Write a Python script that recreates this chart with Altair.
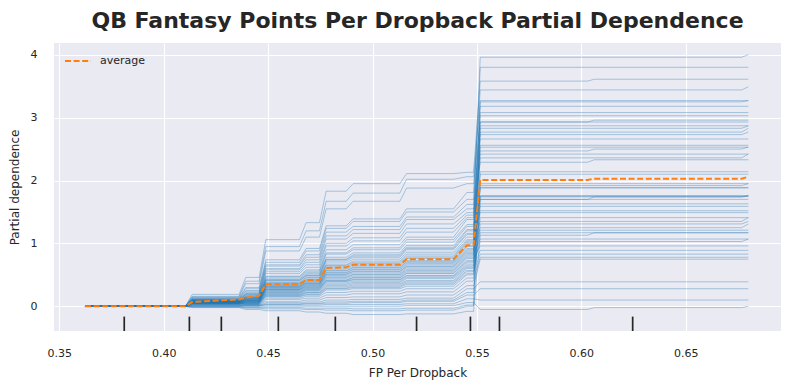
import altair as alt
import pandas as pd

TITLE = "QB Fantasy Points Per Dropback Partial Dependence"

# x positions (start, end) of each flat step of the ICE curves
level_x = [
    (0.3623, 0.4104), (0.4136, 0.4361), (0.4393, 0.4457), (0.4489, 0.4650),
    (0.4682, 0.4746), (0.4778, 0.4874), (0.4907, 0.5131), (0.5163, 0.5388),
    (0.5452, 0.5484), (0.5516, 0.6030), (0.6062, 0.6768), (0.6800,),
]

# ICE curve levels (first step is 0 for every curve)
ice_levels = [
    [0.19, 0.46, 1.06, 1.33, 1.83, 1.95, 2.11, 2.13, 3.58, 3.61, 3.61],
    [0.16, 0.40, 0.95, 1.20, 1.67, 1.80, 2.02, 2.06, 3.25, 3.25, 3.27],
    [0.15, 0.36, 0.88, 1.10, 1.55, 1.67, 1.88, 1.95, 2.93, 2.96, 2.96],
    [0.14, 0.30, 0.74, 0.92, 1.28, 1.39, 1.55, 1.81, 3.44, 3.44, 3.49],
    [0.12, 0.28, 0.70, 0.88, 1.24, 1.35, 1.50, 1.70, 2.73, 2.73, 2.77],
    [0.13, 0.25, 0.66, 0.82, 1.18, 1.27, 1.42, 1.62, 3.96, 3.96, 4.00],
    [0.11, 0.24, 0.64, 0.78, 1.12, 1.22, 1.38, 1.55, 2.47, 2.50, 2.53],
    [0.10, 0.22, 0.60, 0.74, 1.07, 1.16, 1.31, 1.49, 3.08, 3.08, 3.08],
    [0.12, 0.20, 0.58, 0.70, 1.00, 1.09, 1.24, 1.45, 2.29, 2.33, 2.33],
    [0.09, 0.19, 0.55, 0.66, 0.96, 1.04, 1.18, 1.41, 3.80, 3.80, 3.80],
    [0.10, 0.18, 0.52, 0.62, 0.90, 0.98, 1.10, 1.38, 2.83, 2.83, 2.87],
    [0.08, 0.20, 0.48, 0.58, 0.85, 0.93, 1.06, 1.30, 1.92, 1.92, 1.95],
    [0.11, 0.17, 0.47, 0.56, 0.83, 0.90, 1.02, 1.27, 3.18, 3.18, 3.18],
    [0.09, 0.15, 0.45, 0.54, 0.78, 0.85, 0.97, 1.22, 2.56, 2.56, 2.56],
    [0.07, 0.16, 0.43, 0.52, 0.75, 0.82, 0.94, 1.20, 1.74, 1.74, 1.76],
    [0.10, 0.14, 0.42, 0.50, 0.74, 0.80, 0.92, 1.16, 3.27, 3.27, 3.27],
    [0.08, 0.15, 0.41, 0.49, 0.72, 0.78, 0.90, 1.14, 2.36, 2.36, 2.42],
    [0.09, 0.13, 0.40, 0.48, 0.69, 0.75, 0.86, 1.10, 1.52, 1.52, 1.52],
    [0.07, 0.14, 0.38, 0.46, 0.66, 0.72, 0.83, 1.06, 2.66, 2.66, 2.66],
    [0.10, 0.12, 0.37, 0.45, 0.65, 0.70, 0.80, 1.04, 1.70, 1.74, 1.75],
    [0.06, 0.13, 0.36, 0.43, 0.63, 0.68, 0.78, 1.02, 3.03, 3.03, 3.03],
    [0.09, 0.12, 0.35, 0.42, 0.61, 0.66, 0.76, 1.00, 1.35, 1.35, 1.41],
    [0.08, 0.11, 0.34, 0.41, 0.59, 0.64, 0.73, 0.97, 2.14, 2.14, 2.14],
    [0.07, 0.12, 0.33, 0.39, 0.57, 0.62, 0.71, 0.95, 1.63, 1.63, 1.63],
    [0.09, 0.10, 0.32, 0.39, 0.56, 0.61, 0.70, 0.92, 2.87, 2.87, 2.87],
    [0.06, 0.11, 0.31, 0.37, 0.54, 0.59, 0.68, 0.90, 1.25, 1.25, 1.31],
    [0.08, 0.10, 0.31, 0.37, 0.53, 0.58, 0.66, 0.88, 1.76, 1.76, 1.76],
    [0.07, 0.09, 0.30, 0.36, 0.51, 0.56, 0.64, 0.86, 2.53, 2.53, 2.53],
    [0.05, 0.10, 0.29, 0.35, 0.51, 0.55, 0.63, 0.84, 1.07, 1.07, 1.07],
    [0.08, 0.09, 0.28, 0.34, 0.49, 0.53, 0.61, 0.82, 1.89, 1.89, 1.89],
    [0.06, 0.08, 0.27, 0.33, 0.47, 0.51, 0.59, 0.80, 2.42, 2.42, 2.42],
    [0.07, 0.09, 0.27, 0.32, 0.46, 0.50, 0.57, 0.78, 1.49, 1.49, 1.49],
    [0.05, 0.08, 0.26, 0.31, 0.44, 0.48, 0.55, 0.76, 0.96, 0.96, 0.96],
    [0.06, 0.07, 0.25, 0.30, 0.42, 0.46, 0.53, 0.73, 1.21, 1.21, 1.21],
    [0.07, 0.08, 0.24, 0.29, 0.41, 0.45, 0.52, 0.71, 2.77, 2.77, 2.83],
    [0.05, 0.07, 0.23, 0.28, 0.40, 0.43, 0.49, 0.69, 1.88, 1.88, 1.88],
    [0.06, 0.06, 0.22, 0.27, 0.39, 0.42, 0.48, 0.66, 1.03, 1.03, 1.07],
    [0.04, 0.07, 0.21, 0.26, 0.37, 0.40, 0.46, 0.64, 1.59, 1.59, 1.59],
    [0.06, 0.05, 0.20, 0.25, 0.35, 0.38, 0.44, 0.62, 0.89, 0.89, 0.89],
    [0.05, 0.06, 0.19, 0.23, 0.33, 0.36, 0.41, 0.60, 2.10, 2.10, 2.10],
    [0.04, 0.05, 0.18, 0.22, 0.31, 0.34, 0.39, 0.57, 1.41, 1.41, 1.41],
    [0.05, 0.04, 0.17, 0.21, 0.29, 0.32, 0.37, 0.55, 0.83, 0.83, 0.83],
    [0.04, 0.05, 0.16, 0.19, 0.28, 0.30, 0.35, 0.52, 1.17, 1.17, 1.17],
    [0.03, 0.04, 0.15, 0.18, 0.26, 0.28, 0.32, 0.50, 1.31, 1.31, 1.35],
    [0.04, 0.03, 0.13, 0.16, 0.22, 0.24, 0.28, 0.45, 0.78, 0.78, 0.78],
    [0.03, 0.02, 0.11, 0.13, 0.18, 0.20, 0.23, 0.40, 1.95, 1.95, 1.95],
    [0.02, 0.03, 0.08, 0.10, 0.14, 0.15, 0.18, 0.33, 0.75, 0.75, 0.75],
    [0.02, 0.01, 0.06, 0.07, 0.10, 0.11, 0.13, 0.28, 0.39, 0.39, 0.39],
    [0.01, 0.02, 0.04, 0.05, 0.07, 0.08, 0.10, 0.22, 1.75, 1.75, 1.75],
    [0.01, 0.00, 0.03, 0.04, 0.05, 0.06, 0.08, 0.18, 0.28, 0.28, 0.28],
    [0.00, 0.01, 0.02, 0.02, 0.03, 0.03, 0.04, 0.12, 0.10, 0.10, 0.10],
    [0.00, -0.01, 0.00, 0.00, 0.00, 0.00, 0.01, 0.06, -0.05, -0.02, 0.00],
    [-0.01, -0.02, -0.02, -0.03, -0.03, -0.04, -0.03, 0.02, 1.70, 1.70, 1.70],
    [-0.01, -0.03, -0.04, -0.05, -0.06, -0.07, -0.06, 0.00, 2.93, 2.93, 2.93],
    [-0.02, -0.05, -0.07, -0.09, -0.11, -0.13, -0.12, -0.08, 1.13, 1.17, 1.17],
]

# average (partial dependence) curve
avg_x = [0.3623, 0.4104, 0.4136, 0.4361, 0.4393, 0.4457, 0.4489, 0.4650, 0.4682,
         0.4746, 0.4778, 0.4874, 0.4907, 0.5131, 0.5163, 0.5388, 0.5452, 0.5484,
         0.5516, 0.6030, 0.6062, 0.6768, 0.6800]
avg_y = [0.0, 0.0, 0.07, 0.11, 0.14, 0.17, 0.35, 0.35, 0.42,
         0.42, 0.61, 0.62, 0.66, 0.66, 0.75, 0.75, 0.97, 0.97,
         2.01, 2.01, 2.03, 2.03, 2.06]

deciles = [0.3811, 0.4123, 0.4276, 0.4549, 0.4822, 0.5211, 0.5469, 0.5608, 0.6246]

x_ticks = [0.35, 0.40, 0.45, 0.50, 0.55, 0.60, 0.65]
y_ticks = [0, 1, 2, 3, 4]

rows = []
for li, lv in enumerate(ice_levels):
    vals = [0.0] + lv
    for xs_, v in zip(level_x, vals):
        for xv in xs_:
            rows.append({"line": li, "x": xv, "y": v})
ice_df = pd.DataFrame(rows)
avg_df = pd.DataFrame({"x": avg_x, "y": avg_y, "label": ["average"] * len(avg_x)})
dec_df = pd.DataFrame({"x": deciles})

W, H = 727, 288
FONT = "DejaVu Sans"
TXT = "#262626"

xscale = alt.Scale(domain=[0.34746, 0.69564], nice=False, zero=False)
yscale = alt.Scale(domain=[-0.392, 4.186], nice=False, zero=False)

xaxis = alt.Axis(values=x_ticks, format=".2f", title="FP Per Dropback",
                 labelPadding=16, titlePadding=9)
yaxis = alt.Axis(values=y_ticks, format="d", title="Partial dependence",
                 labelPadding=17, titlePadding=9)

ice = alt.Chart(ice_df).mark_line(color="#1f77b4", opacity=0.4, strokeWidth=0.9).encode(
    x=alt.X("x:Q", scale=xscale, axis=xaxis),
    y=alt.Y("y:Q", scale=yscale, axis=yaxis),
    detail="line:N",
)

avg = alt.Chart(avg_df).mark_line(strokeDash=[6, 2.6], strokeWidth=2).encode(
    x=alt.X("x:Q", scale=xscale),
    y=alt.Y("y:Q", scale=yscale),
    color=alt.Color(
        "label:N",
        scale=alt.Scale(domain=["average"], range=["#ff7f0e"]),
        legend=alt.Legend(title=None, orient="none", legendX=10, legendY=4,
                          symbolType="stroke", symbolDash=[6, 2.6],
                          symbolStrokeWidth=2, symbolSize=676,
                          labelFontSize=11, labelFont=FONT, labelColor=TXT,
                          labelOffset=8, padding=0),
    ),
)

dec = alt.Chart(dec_df).mark_rule(color="#262626", strokeWidth=1.7).encode(
    x=alt.X("x:Q", scale=xscale),
    y=alt.value(H),
    y2=alt.value(H * 0.95),
)

chart = alt.layer(ice, avg, dec).properties(
    width=W,
    height=H,
    title=alt.Title(TITLE, font=FONT, fontSize=22, fontWeight="bold", color=TXT,
                    anchor="middle", offset=10),
    padding={"left": 46, "top": 35, "right": 0, "bottom": 50},
    autosize=alt.AutoSizeParams(type="none"),
).configure(background="white").configure_view(
    fill="#EAEAF2", stroke=None
).configure_axis(
    grid=True, gridColor="white", gridWidth=1.1, domain=False, ticks=False, tickSize=0,
    labelFont=FONT, labelFontSize=11, labelColor=TXT,
    titleFont=FONT, titleFontSize=12, titleFontWeight="normal", titleColor=TXT,
)

chart.save("out.html", embed_options={"renderer": "svg", "actions": False})
